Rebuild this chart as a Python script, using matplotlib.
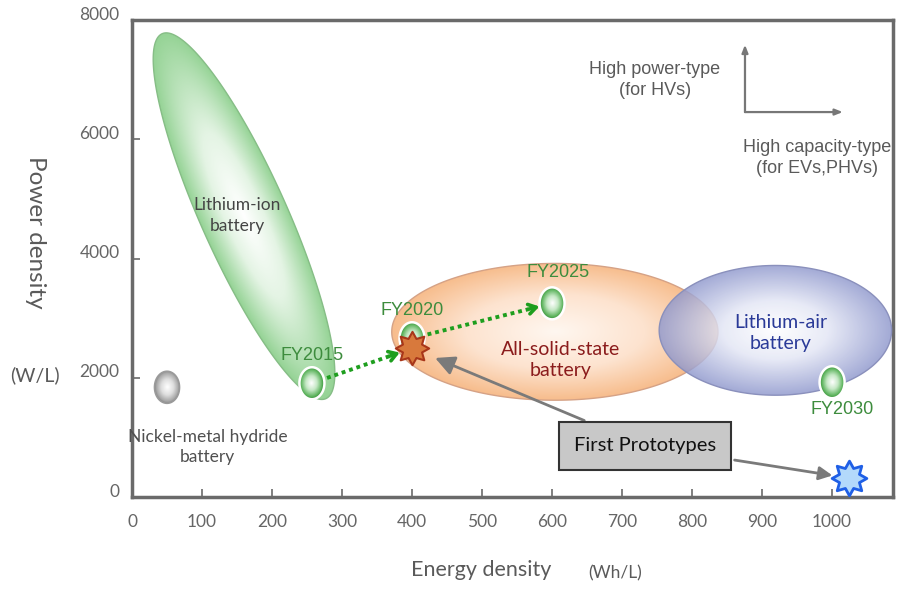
import numpy as np
import matplotlib
matplotlib.use("Agg")
import matplotlib.pyplot as plt
import matplotlib.transforms as mtransforms
from matplotlib.patches import Polygon
from matplotlib.path import Path
from matplotlib.colors import LinearSegmentedColormap

plt.rcParams['font.family'] = ['Lato', 'DejaVu Sans']

# ---- data ----
energy_ticks = list(range(0, 1001, 100))
power_ticks = [0, 2000, 4000, 6000, 8000]

# lithium-ion region: ends of the long axis (energy, power)
liion_end_energy = [43, 277]
liion_end_power = [7770, 1650]

# all-solid-state and lithium-air regions: centre and half extents
solid_center = [604, 2770]
solid_half = [233, 1147]
air_center = [919, 2795]
air_half = [166, 1088]

nimh_energy = 50
nimh_power = 1840

milestone_labels = ['FY2015', 'FY2020', 'FY2025', 'FY2030']
milestone_energy = [257, 400, 600, 1000]
milestone_power = [1908, 2662, 3248, 1925]

prototype_energy = [400, 1024]
prototype_power = [2494, 318]

# ---- figure ----
W_PX, H_PX = 900, 600
L, R, T, B = 132, 893, 20, 497
fig = plt.figure(figsize=(9, 6), dpi=100)
ax = fig.add_axes([L / W_PX, 1 - B / H_PX, (R - L) / W_PX, (B - T) / H_PX])
XMAX, YMAX = 1087, 8000
ax.set_xlim(0, XMAX)
ax.set_ylim(0, YMAX)
sx = (R - L) / XMAX      # pixels per Wh/L
sy = (B - T) / YMAX      # pixels per W/L


def shaded(center, u, v, stops, edge, lw=1.0, alpha=1.0, z=1):
    """Ellipse c + cos(t) u + sin(t) v with a radial gradient fill."""
    cx, cy = center
    t = np.linspace(0, 2 * np.pi, 240)
    xs = cx + np.cos(t) * u[0] + np.sin(t) * v[0]
    ys = cy + np.cos(t) * u[1] + np.sin(t) * v[1]
    poly = Polygon(np.column_stack([xs, ys]), closed=True, facecolor='none',
                   edgecolor=edge, lw=lw, zorder=z + 0.1)
    ax.add_patch(poly)
    gx = np.linspace(xs.min(), xs.max(), 300)
    gy = np.linspace(ys.min(), ys.max(), 300)
    X, Y = np.meshgrid(gx, gy)
    minv = np.linalg.inv(np.array([[u[0], v[0]], [u[1], v[1]]]))
    dx, dy = X - cx, Y - cy
    s = minv[0, 0] * dx + minv[0, 1] * dy
    q = minv[1, 0] * dx + minv[1, 1] * dy
    r = np.clip(np.hypot(s, q), 0, 1)
    cmap = LinearSegmentedColormap.from_list('grad', stops)
    rgba = cmap(r)
    rgba[..., 3] = alpha
    im = ax.imshow(rgba, extent=(gx[0], gx[-1], gy[0], gy[-1]), origin='lower',
                   aspect='auto', interpolation='bilinear', zorder=z)
    im.set_clip_path(poly)


# lithium-ion (tilted)
c_li = [np.mean(liion_end_energy), np.mean(liion_end_power)]
u_li = [liion_end_energy[0] - c_li[0], liion_end_power[0] - c_li[1]]
n = np.array([-u_li[1] * sy, u_li[0] * sx])
n = n / np.hypot(*n) * 43
v_li = [n[0] / sx, n[1] / sy]
shaded(c_li, u_li, v_li, [(0, '#ffffff'), (0.45, '#e4f4e4'), (1, '#95d395')],
       '#86bd86', z=1)

shaded(solid_center, [solid_half[0], 0], [0, solid_half[1]],
       [(0, '#fff7f0'), (0.55, '#fde3cf'), (1, '#f7bd8d')], '#d5a286', z=2)
shaded(air_center, [air_half[0], 0], [0, air_half[1]],
       [(0, '#ffffff'), (0.45, '#e3e6f5'), (1, '#8f98cd')], '#8a90bc',
       alpha=0.82, z=3)

# spheres
ru, rv = 12.5 / sx, 16 / sy
shaded([nimh_energy, nimh_power], [ru, 0], [0, rv],
       [(0, '#ffffff'), (0.5, '#dedede'), (0.9, '#a5a5a5'), (1, '#8c8c8c')],
       '#9a9a9a', lw=1.2, z=5)
green_stops = [(0, '#ffffff'), (0.45, '#c5e8c5'), (0.85, '#5cb35c'), (1, '#3b8f3b')]
for e, p in zip(milestone_energy, milestone_power):
    shaded([e, p], [ru, 0], [0, rv], green_stops, 'white', lw=1.8, z=5)

# milestone labels
sans = ['Liberation Sans', 'DejaVu Sans']
label_offsets = [(0, 20), (0, 20), (4, 22), (7, -20)]
for lab, e, p, off in zip(milestone_labels, milestone_energy, milestone_power, label_offsets):
    ax.annotate(lab, (e, p), xytext=off, textcoords='offset points',
                ha='center', va='center', fontsize=13, color='#3d8c3d',
                family=sans, zorder=9)

# prototype stars
star = Path.unit_regular_star(8, 0.62)
ax.plot(prototype_energy[0], prototype_power[0], marker=star, markersize=24,
        mfc='#d8793c', mec='#a8361a', mew=1.5, ls='none', zorder=7)
ax.plot(prototype_energy[1], prototype_power[1], marker=star, markersize=25,
        mfc='#b3d9fb', mec='#1f5fe6', mew=2, ls='none', zorder=7)

# dotted green progress arrows
to_px = ax.transData.transform
to_data = ax.transData.inverted().transform
segments = [((milestone_energy[0], milestone_power[0]), (prototype_energy[0], prototype_power[0])),
            ((milestone_energy[1], milestone_power[1]), (milestone_energy[2], milestone_power[2]))]
for a, b in segments:
    pa, pb = to_px(a), to_px(b)
    d = (pb - pa) / np.hypot(*(pb - pa))
    start = to_data(pa + d * 16)
    tip = to_data(pb - d * 13)
    back = to_data(pb - d * 24)
    ax.plot([start[0], back[0]], [start[1], back[1]], color='#1e9e1e', lw=2.8,
            ls=(0, (1, 1)), zorder=6)
    ax.annotate('', xy=tip, xytext=back,
                arrowprops=dict(arrowstyle='->,head_length=0.55,head_width=0.35',
                                color='#1e9e1e', lw=2.6, shrinkA=0, shrinkB=0),
                zorder=6)

# First Prototypes box with two arrows
box_xy = (0.674, 0.107)
ann = ax.annotate('First Prototypes', xy=(prototype_energy[0], prototype_power[0]),
                  xytext=box_xy, textcoords='axes fraction', ha='center', va='center',
                  fontsize=14.5, color='#111111',
                  bbox=dict(boxstyle='square,pad=0.75', fc='#c8c8c8', ec='#333333', lw=1.5),
                  arrowprops=dict(arrowstyle='-|>,head_length=0.8,head_width=0.4',
                                  color='#7a7a7a', lw=2, shrinkB=18),
                  zorder=8)
ax.annotate('', xy=(prototype_energy[1], prototype_power[1]), xytext=box_xy,
            textcoords='axes fraction',
            arrowprops=dict(arrowstyle='-|>,head_length=0.8,head_width=0.4',
                            color='#7a7a7a', lw=2, shrinkB=12,
                            patchA=ann.get_bbox_patch()),
            zorder=8)

# region names
ax.text(150, 4720, 'Lithium-ion\nbattery', ha='center', va='center', fontsize=12.5,
        color='#444444', linespacing=1.35, zorder=9)
ax.text(108, 837, 'Nickel-metal hydride\nbattery', ha='center', va='center',
        fontsize=12.5, color='#505050', linespacing=1.35, zorder=9)
ax.text(612, 2293, 'All-solid-state\nbattery', ha='center', va='center', fontsize=14,
        color='#8b1c1c', linespacing=1.3, zorder=9)
ax.text(927, 2745, 'Lithium-air\nbattery', ha='center', va='center', fontsize=14,
        color='#2a3a98', linespacing=1.3, zorder=9)

# type guide in the corner
ax.text(0.687, 0.874, 'High power-type\n(for HVs)', transform=ax.transAxes,
        ha='center', va='center', fontsize=13, color='#5a5a5a', family=sans,
        linespacing=1.3)
ax.text(0.900, 0.711, 'High capacity-type\n(for EVs,PHVs)', transform=ax.transAxes,
        ha='center', va='center', fontsize=13, color='#5a5a5a', family=sans,
        linespacing=1.3)
corner = (0.8055, 0.807)
guide = dict(arrowstyle='-|>,head_length=0.45,head_width=0.18', color='#777777',
             lw=1.6, shrinkA=0, shrinkB=0)
ax.annotate('', xy=(corner[0], 0.948), xytext=corner, xycoords='axes fraction',
            arrowprops=guide)
ax.annotate('', xy=(0.934, corner[1]), xytext=corner, xycoords='axes fraction',
            arrowprops=guide)

# axes styling
ax.set_xticks(energy_ticks)
ax.set_yticks(power_ticks)
for s in ax.spines.values():
    s.set_color('#6a6a6a')
    s.set_linewidth(2.5)
ax.tick_params(direction='in', length=6, width=1.2, colors='#6a6a6a',
               labelsize=12.5, labelcolor='#666666')
ax.tick_params(axis='x', pad=12)
ax.tick_params(axis='y', pad=9)
lift = mtransforms.ScaledTranslation(0, 5 / 72, fig.dpi_scale_trans)
for lab in ax.get_yticklabels():
    lab.set_transform(lab.get_transform() + lift)
ax.set_xlim(0, XMAX)
ax.set_ylim(0, YMAX)

fig.text(481 / W_PX, 1 - 570 / H_PX, 'Energy density', ha='center', va='center',
         fontsize=15.5, color='#5a5a5a')
fig.text(615 / W_PX, 1 - 573 / H_PX, '(Wh/L)', ha='center', va='center',
         fontsize=12.5, color='#5a5a5a')
fig.text(35 / W_PX, 1 - 232 / H_PX, 'Power density', ha='center', va='center',
         rotation=270, fontsize=17.5, color='#5a5a5a')
fig.text(35 / W_PX, 1 - 375 / H_PX, '(W/L)', ha='center', va='center',
         fontsize=14, color='#5a5a5a')

fig.savefig('out.png', dpi=100)
